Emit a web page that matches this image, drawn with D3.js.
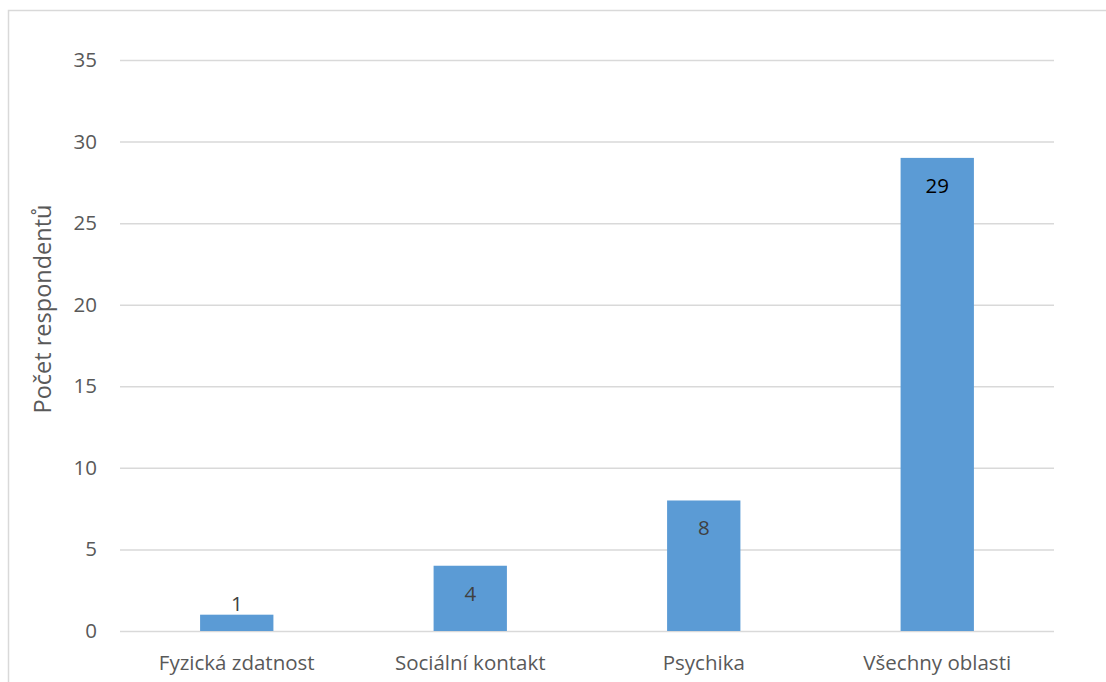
<!DOCTYPE html>
<html>
<head>
<meta charset="utf-8">
<script src="https://cdn.jsdelivr.net/npm/d3@7"></script>
<style>
  html, body { margin: 0; padding: 0; background: #fff; }
  svg { display: block; }
  text { font-family: "Open Sans", "Liberation Sans", sans-serif; }
</style>
</head>
<body>
<svg id="chart" width="1106" height="682"></svg>
<script>
// Data: respondents by area
const categories = ["Fyzická zdatnost", "Sociální kontakt", "Psychika", "Všechny oblasti"];
const values = [1, 4, 8, 29];
const yTicks = [0, 5, 10, 15, 20, 25, 30, 35];
const yTitle = "Počet respondentů";

const W = 1106, H = 682;
const margin = { left: 120, right: 52, top: 60, bottom: 51 };
const svg = d3.select("#chart");

// chart frame
svg.append("rect")
  .attr("x", 8.5).attr("y", 10.5)
  .attr("width", 1200).attr("height", 800)
  .attr("fill", "#fff")
  .attr("stroke", "#d9d9d9").attr("stroke-width", 1.5);

const x = d3.scaleBand()
  .domain(categories)
  .range([margin.left, W - margin.right])
  .paddingInner(0.686).paddingOuter(0.343);

const y = d3.scaleLinear()
  .domain([0, 35])
  .range([H - margin.bottom, margin.top]);

// gridlines + tick labels
const yAxis = d3.axisLeft(y).tickValues(yTicks)
  .tickSize(-(W - margin.right - margin.left)).tickPadding(23);
const gy = svg.append("g")
  .attr("transform", `translate(${margin.left},0)`)
  .call(yAxis);
gy.select(".domain").remove();
gy.selectAll(".tick line").attr("stroke", "#d9d9d9").attr("stroke-width", 1.5);
gy.selectAll(".tick text")
  .attr("fill", "#595959").attr("font-size", 20.5);

// bars
svg.append("g").selectAll("rect")
  .data(values)
  .join("rect")
  .attr("x", (d, i) => x(categories[i]))
  .attr("width", x.bandwidth())
  .attr("y", d => y(d))
  .attr("height", d => y(0) - y(d))
  .attr("fill", "#5b9bd5");

// value labels: inside the bar end, or above it when the bar is too short
svg.append("g").selectAll("text")
  .data(values)
  .join("text")
  .attr("x", (d, i) => x(categories[i]) + x.bandwidth() / 2)
  .attr("y", d => (y(0) - y(d)) < 40 ? y(d) - 4 : y(d) + 35)
  .attr("text-anchor", "middle")
  .attr("font-size", 20.5)
  .attr("fill", d => d >= 20 ? "#000" : "#404040")
  .text(d => d);

// category labels
svg.append("g").selectAll("text")
  .data(categories)
  .join("text")
  .attr("x", d => x(d) + x.bandwidth() / 2)
  .attr("y", H - margin.bottom + 32)
  .attr("dy", "0.35em")
  .attr("text-anchor", "middle")
  .attr("font-size", 20.5)
  .attr("fill", "#595959")
  .text(d => d);

// y axis title
svg.append("text")
  .attr("transform", `translate(43,309) rotate(-90)`)
  .attr("dy", "0.35em")
  .attr("text-anchor", "middle")
  .attr("font-size", 23.5)
  .attr("fill", "#595959")
  .text(yTitle);
</script>
</body>
</html>
